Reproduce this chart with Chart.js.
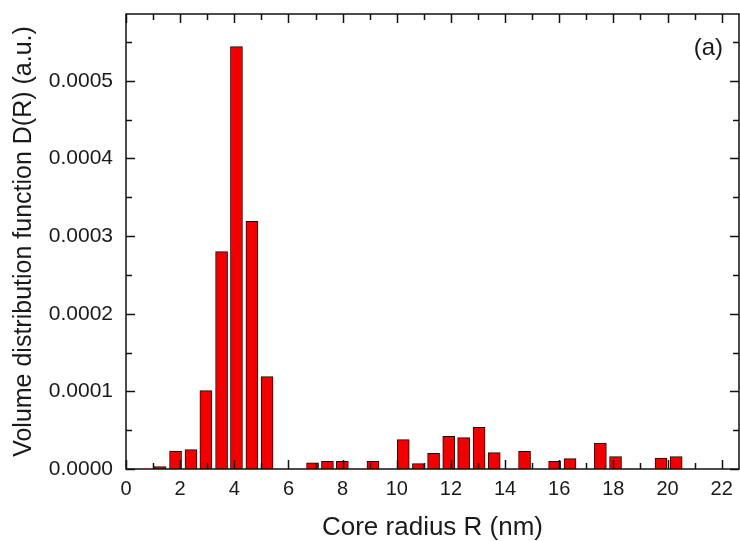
<!DOCTYPE html>
<html>
<head>
<meta charset="utf-8">
<title>Volume distribution function</title>
<script src="https://cdn.jsdelivr.net/npm/chart.js@4.4.1/dist/chart.umd.min.js"></script>
<style>
    html, body { margin: 0; padding: 0; background: #ffffff; }
    #chart-wrap { position: relative; width: 740px; height: 541px; }
</style>
</head>
<body>
<div id="chart-wrap">
    <canvas id="distribution-chart"></canvas>
</div>
<script>
// bin centres of core radius R (nm)
const radiusBins = [1.26, 1.83, 2.40, 2.95, 3.53, 4.08, 4.65, 5.21,
    6.89, 7.44, 7.99, 9.12, 10.24, 10.80, 11.36, 11.92, 12.47, 13.04,
    13.60, 14.72, 15.83, 16.40, 17.52, 18.08, 19.76, 20.32];

// D(R) values (a.u.)
const volumeDist = [0.000003, 0.000023, 0.000025, 0.000101, 0.000280, 0.000544, 0.000319, 0.000119,
    0.0000081, 0.0000099, 0.0000099, 0.0000100, 0.0000378, 0.0000069, 0.0000202, 0.0000421, 0.0000404, 0.0000537,
    0.0000210, 0.0000228, 0.0000099, 0.0000133, 0.0000335, 0.0000159, 0.0000142, 0.0000159];

const xMajorTicks = [0, 2, 4, 6, 8, 10, 12, 14, 16, 18, 20, 22];
const xMinorTicks = [1, 3, 5, 7, 9, 11, 13, 15, 17, 19, 21];
const yMajorTicks = [0, 0.0001, 0.0002, 0.0003, 0.0004, 0.0005];
const yMinorTicks = [0.00005, 0.00015, 0.00025, 0.00035, 0.00045, 0.00055];

const xRange = [0, 22.64];
const yRange = [0, 0.000586];

document.addEventListener('DOMContentLoaded', function() {
    initDistributionChart();
});

// frame, inward ticks on all four sides, panel label
const framePlugin = {
    id: 'frame',
    afterDatasetsDraw(chart) {
        const ctx = chart.ctx;
        const area = chart.chartArea;
        const xs = chart.scales.x;
        const ys = chart.scales.y;
        const major = 9, minor = 6;

        ctx.save();
        ctx.strokeStyle = '#111111';
        ctx.lineWidth = 1.5;

        ctx.beginPath();
        const tickX = (vals, len) => {
            vals.forEach(v => {
                const px = Math.round(xs.getPixelForValue(v)) + 0.5;
                ctx.moveTo(px, area.bottom);
                ctx.lineTo(px, area.bottom - len);
                ctx.moveTo(px, area.top);
                ctx.lineTo(px, area.top + len);
            });
        };
        const tickY = (vals, len) => {
            vals.forEach(v => {
                const py = Math.round(ys.getPixelForValue(v)) + 0.5;
                ctx.moveTo(area.left, py);
                ctx.lineTo(area.left + len, py);
                ctx.moveTo(area.right, py);
                ctx.lineTo(area.right - len, py);
            });
        };
        tickX(xMajorTicks, major);
        tickX(xMinorTicks, minor);
        tickY(yMajorTicks, major);
        tickY(yMinorTicks, minor);
        ctx.stroke();

        ctx.strokeRect(area.left, area.top, area.right - area.left, area.bottom - area.top);

        ctx.fillStyle = '#1a1a1a';
        ctx.font = '24px "Liberation Sans", Arial, sans-serif';
        ctx.textAlign = 'right';
        ctx.textBaseline = 'middle';
        ctx.fillText('(a)', area.right - 16, area.top + 34);
        ctx.restore();
    }
};

function initDistributionChart() {
    const canvas = document.getElementById('distribution-chart');
    if (!canvas) return;

    const points = radiusBins.map((r, i) => ({ x: r, y: volumeDist[i] }));
    const ctx = canvas.getContext('2d');

    new Chart(ctx, {
        type: 'bar',
        data: {
            datasets: [{
                label: 'D(R)',
                data: points,
                backgroundColor: '#f20000',
                borderColor: '#2a0000',
                borderWidth: 1,
                barThickness: 12
            }]
        },
        options: {
            responsive: true,
            maintainAspectRatio: false,
            animation: false,
            layout: {
                padding: { top: 14, right: 1, left: 0, bottom: 0 }
            },
            scales: {
                x: {
                    type: 'linear',
                    min: xRange[0],
                    max: xRange[1],
                    offset: false,
                    afterFit: function(scale) {
                        scale.height = 72;
                        scale.paddingLeft = 0;
                        scale.paddingRight = 0;
                    },
                    afterBuildTicks: function(scale) {
                        scale.ticks = xMajorTicks.map(v => ({ value: v }));
                    },
                    grid: { display: false, drawTicks: false },
                    border: { display: false },
                    ticks: {
                        padding: 8,
                        color: '#1a1a1a',
                        maxRotation: 0,
                        autoSkip: false,
                        font: { family: '"Liberation Sans", Arial, sans-serif', size: 20 },
                        callback: function(value) { return String(value); }
                    },
                    title: {
                        display: true,
                        text: 'Core radius R (nm)',
                        color: '#1a1a1a',
                        padding: { top: 0, bottom: -2 },
                        font: { family: '"Liberation Sans", Arial, sans-serif', size: 26 }
                    }
                },
                y: {
                    min: yRange[0],
                    max: yRange[1],
                    afterFit: function(scale) {
                        scale.width = 126;
                        scale.paddingTop = 0;
                        scale.paddingBottom = 0;
                    },
                    afterBuildTicks: function(scale) {
                        scale.ticks = yMajorTicks.map(v => ({ value: v }));
                    },
                    grid: { display: false, drawTicks: false },
                    border: { display: false },
                    ticks: {
                        padding: 13,
                        color: '#1a1a1a',
                        autoSkip: false,
                        font: { family: '"Liberation Sans", Arial, sans-serif', size: 21 },
                        callback: function(value) { return Number(value).toFixed(4); }
                    },
                    title: {
                        display: true,
                        text: 'Volume distribution function D(R) (a.u.)',
                        color: '#1a1a1a',
                        padding: { top: 9, bottom: 0 },
                        font: { family: '"Liberation Sans", Arial, sans-serif', size: 25 }
                    }
                }
            },
            plugins: {
                legend: { display: false },
                tooltip: { enabled: false }
            }
        },
        plugins: [framePlugin]
    });
}
</script>
</body>
</html>
